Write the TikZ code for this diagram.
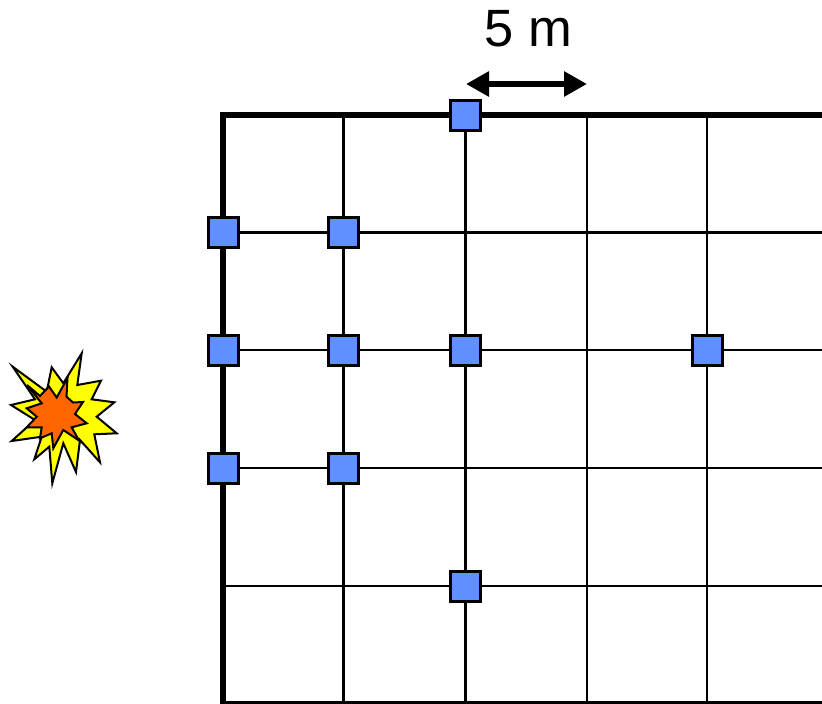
\documentclass[tikz,border=0pt]{standalone}
\usepackage{fontspec}
\setmainfont{Liberation Sans}
\usepackage{xcolor}
\usetikzlibrary{arrows.meta}
\definecolor{sensorblue}{HTML}{6090FF}
\definecolor{blastorange}{HTML}{FF6600}
\definecolor{blastyellow}{RGB}{255,255,0}

\begin{document}
\begin{tikzpicture}[
    x=1pt, y=-1pt,
    sensor/.style={rectangle, draw, line width=3pt, fill=sensorblue,
                   minimum size=30pt, inner sep=0pt},
    wall/.style={line width=6.2pt},
    gridline/.style={line width=2.4pt},
    blast/.style={draw, line width=2pt, line join=miter},
    dimension/.style={{Triangle[length=23pt,width=24pt]}-{Triangle[length=23pt,width=24pt]}, line width=6.8pt},
]
\useasboundingbox (0,0) rectangle (822,704);

% grid lines
\foreach \name/\xpos in {a/343.5, b/465.5, c/587, d/707} {
    \coordinate (\name top) at (\xpos,115);
    \coordinate (\name bot) at (\xpos,703);
    \draw[gridline] (\name top) -- (\name bot);
}
\foreach \name/\ypos in {p/232.5, q/350, r/468, s/586} {
    \coordinate (\name left) at (223,\ypos);
    \coordinate (\name right) at (822,\ypos);
    \draw[gridline] (\name left) -- (\name right);
}

% walls
\coordinate (cornerbl) at (222.6,704);
\coordinate (cornertl) at (222.6,115);
\coordinate (cornertr) at (822,115);
\coordinate (cornerbr) at (822,703.5);
\draw[wall, line join=miter] (cornerbl) -- (cornertl) -- (cornertr);
\draw[line width=5pt] (cornerbl |- cornerbr) -- (cornerbr);

% sensors
\node[sensor] (s1)  at (465.5,115)   {};
\node[sensor] (s2)  at (223,232.5)   {};
\node[sensor] (s3)  at (343.5,232.5) {};
\node[sensor] (s4)  at (223,350)     {};
\node[sensor] (s5)  at (343.5,350)   {};
\node[sensor] (s6)  at (465.5,350)   {};
\node[sensor] (s7)  at (707,350)     {};
\node[sensor] (s8)  at (223,468)     {};
\node[sensor] (s9)  at (343.5,468)   {};
\node[sensor] (s10) at (465.5,586)   {};

% spacing label
\node[font=\fontsize{52.5}{52.5}\selectfont, inner sep=0pt] (span) at (528.5,29) {5 m};
\coordinate (spanl) at (466,84);
\coordinate (spanr) at (587,84);
\draw[dimension] (spanl) -- (spanr);

% explosion
\draw[blast, fill=blastyellow] (12.7,366.7) -- (46.7,391.7) -- (51.7,367.3) -- (63.3,383.3)
    -- (81.7,353.3) -- (77.3,385) -- (101,380.7) -- (91.7,399.3) -- (114.3,402.3)
    -- (96.7,416.7) -- (116.7,433.3) -- (94.3,434.3) -- (100,462.3) -- (80,440)
    -- (76,472) -- (63.3,443.3) -- (52.3,483.3) -- (49.3,446.7) -- (34.3,459.3)
    -- (41.7,436.7) -- (11.7,441) -- (35,420) -- (11,405) -- (35,399.3) -- cycle;
\draw[blast, fill=blastorange] (27,385) -- (40,396) -- (49,386.5) -- (56.7,397.5)
    -- (67.5,378) -- (66.5,396.7) -- (73,402.5) -- (83,402) -- (75,414) -- (86.7,423.3)
    -- (71.7,427.3) -- (79,440.5) -- (63.3,430) -- (53.3,448.3) -- (51.7,433.3)
    -- (40,438.3) -- (41.7,427.3) -- (26.7,427.3) -- (36.7,416.7) -- (26.7,408.3)
    -- (41.7,403.3) -- cycle;
\end{tikzpicture}
\end{document}
